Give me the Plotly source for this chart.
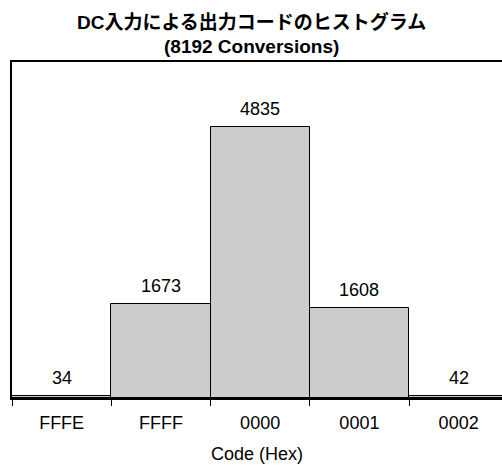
import plotly.graph_objects as go

codes = ["FFFE", "FFFF", "0000", "0001", "0002"]
counts = [34, 1673, 4835, 1608, 42]

title_line1 = "DC入力による出力コードのヒストグラム"
title_line2 = "(8192 Conversions)"
x_title = "Code (Hex)"

FONT = "Helvetica, Arial, 'Liberation Sans', 'Noto Sans CJK JP', sans-serif"

fig = go.Figure()
fig.add_trace(go.Bar(
    x=codes,
    y=counts,
    width=1.0,
    marker=dict(color="#cccccc", line=dict(color="#000000", width=1)),
    hoverinfo="skip",
))

# value labels above each bar (category index used for x so "0000" etc. stay categorical)
for i, v in enumerate(counts):
    fig.add_annotation(
        x=i, y=v, xref="x", yref="y", text=str(v), showarrow=False,
        yanchor="bottom", yshift=6,
        font=dict(family=FONT, size=18, color="#000000"),
    )

# two-line chart title, centred on the page
title_x = (251 - 12) / 490
for text, shift in ((title_line1, 40), (title_line2, 16)):
    fig.add_annotation(
        x=title_x, y=1, xref="paper", yref="paper", text=f"<b>{text}</b>",
        showarrow=False, xanchor="center", yanchor="middle", yshift=shift,
        font=dict(family=FONT, size=19, color="#000000"),
    )

fig.update_layout(
    width=502, height=465,
    margin=dict(l=12, r=0, t=62, b=67),
    paper_bgcolor="white", plot_bgcolor="white",
    showlegend=False,
    bargap=0,
    font=dict(family=FONT, size=18, color="#000000"),
)

fig.update_xaxes(
    type="category",
    range=[-0.5, 4.437],
    showline=True, linecolor="#000000", linewidth=2, mirror=True,
    ticks="outside", tickson="boundaries", ticklen=6, tickcolor="#000000", tickwidth=1,
    ticklabelstandoff=7,
    showgrid=False, zeroline=False,
    tickfont=dict(family=FONT, size=18, color="#000000"),
    title=dict(text=x_title, font=dict(family=FONT, size=18, color="#000000"), standoff=16),
)
fig.update_yaxes(
    range=[0, 6000],
    showline=True, linecolor="#000000", linewidth=2, mirror=False,
    showticklabels=False, ticks="", showgrid=False, zeroline=False,
)

fig.write_html("out.html")
